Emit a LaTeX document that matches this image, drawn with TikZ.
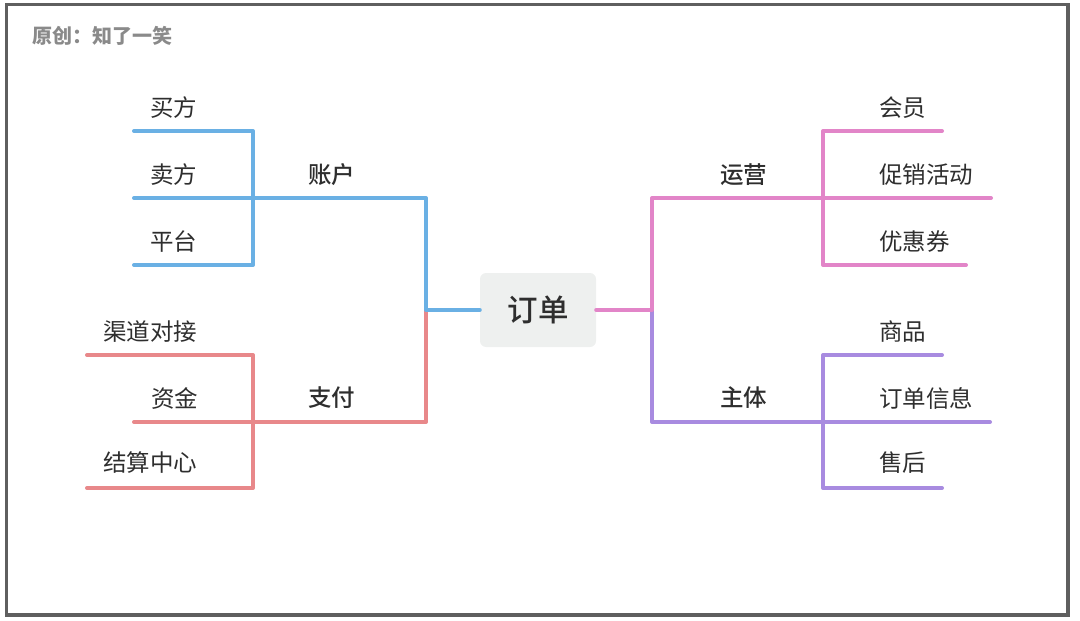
\documentclass[tikz,border=0pt]{standalone}
\usepackage{fontspec}
\setmainfont{Noto Sans CJK SC}
\newfontfamily\medfont{Noto Sans CJK SC Medium}
\usetikzlibrary{positioning}
\usetikzlibrary{calc}
\definecolor{accblue}{HTML}{6AB0E4}
\definecolor{payred}{HTML}{E8888A}
\definecolor{oppink}{HTML}{E285C8}
\definecolor{bodypurple}{HTML}{A88BE0}
\definecolor{textgray}{HTML}{2E2E2E}
\definecolor{titlegray}{HTML}{8A8A8A}
\definecolor{framegray}{HTML}{5F5F5F}
\definecolor{boxgray}{HTML}{EEF0EF}
\newcommand{\leafsize}{\fontsize{23.5}{27}\selectfont}

\begin{document}
\begin{tikzpicture}[x=1pt,y=-1pt]
                % Styles
                \tikzset{
                    leaf/.style={anchor=west, inner sep=0pt, text=textgray, font=\leafsize},
                    topic/.style={leaf, font=\leafsize\medfont},
                    centerbox/.style={fill=boxgray, rounded corners=6pt, inner sep=0pt,
                        minimum width=116pt, minimum height=74pt, text=textgray,
                        font=\fontsize{30.5}{34}\selectfont\medfont},
                    branch/.style={line width=4pt, line cap=round, line join=round},
                }

                \useasboundingbox (0,0) rectangle (1080,621);
                \draw[line width=3.5pt, framegray] (6.5,4.5) rectangle (1068,615);

                % Title and centre
                \node[anchor=west, inner sep=0pt, text=titlegray, font=\fontsize{20}{23}\selectfont\bfseries] (title) at (32,36) {原创：知了一笑};
                \node[centerbox] (order) at (538,310) {订单};

                % Branch labels
                \node[topic] (acc) at (308,175) {账户};
                \node[topic] (pay) at (308,398) {支付};
                \node[topic] (ops) at (720,175) {运营};
                \node[topic] (body) at (720,398) {主体};

                % Leaf labels
                \node[leaf] (buyer) at (150,108) {买方};
                \node[leaf] (seller) at (150,175) {卖方};
                \node[leaf] (platform) at (150,242) {平台};
                \node[leaf] (channel) at (103,332) {渠道对接};
                \node[leaf] (fund) at (151,398) {资金};
                \node[leaf] (settle) at (103,463) {结算中心};
                \node[leaf] (member) at (879,108) {会员};
                \node[leaf] (promo) at (879,175) {促销活动};
                \node[leaf] (coupon) at (879,242) {优惠券};
                \node[leaf] (goods) at (879,332) {商品};
                \node[leaf] (info) at (879,398) {订单信息};
                \node[leaf] (after) at (879,463) {售后};

                % Line ends
                \coordinate (buyerL) at (134,131);
                \coordinate (sellerL) at (134,198);
                \coordinate (platformL) at (134,265);
                \coordinate (channelL) at (87,355);
                \coordinate (fundL) at (134,422);
                \coordinate (settleL) at (87,488);
                \coordinate (accJ) at (253,198);
                \coordinate (payJ) at (253,422);
                \coordinate (leftJ) at (426,310);
                \coordinate (rightJ) at (652,310);
                \coordinate (memberR) at (942,131);
                \coordinate (promoR) at (991,198);
                \coordinate (couponR) at (966,265);
                \coordinate (goodsR) at (942,355);
                \coordinate (infoR) at (990,422);
                \coordinate (afterR) at (942,488);
                \coordinate (opsJ) at (823,198);
                \coordinate (bodyJ) at (823,422);

                % Connection
                \draw[branch, payred] (channelL) -| (payJ |- settleL) -- (settleL);
                \draw[branch, payred] (fundL) -- (payJ) -| (leftJ);
                \draw[branch, accblue] (buyerL) -| (accJ |- platformL) -- (platformL);
                \draw[branch, accblue] (sellerL) -- (accJ) -| (leftJ) -- (order.west);

                \draw[branch, bodypurple] (goodsR) -| (bodyJ |- afterR) -- (afterR);
                \draw[branch, bodypurple] (rightJ) |- (infoR);
                \draw[branch, oppink] (memberR) -| (opsJ |- couponR) -- (couponR);
                \draw[branch, oppink] (order.east) -- (rightJ) |- (promoR);
            \end{tikzpicture}
\end{document}
